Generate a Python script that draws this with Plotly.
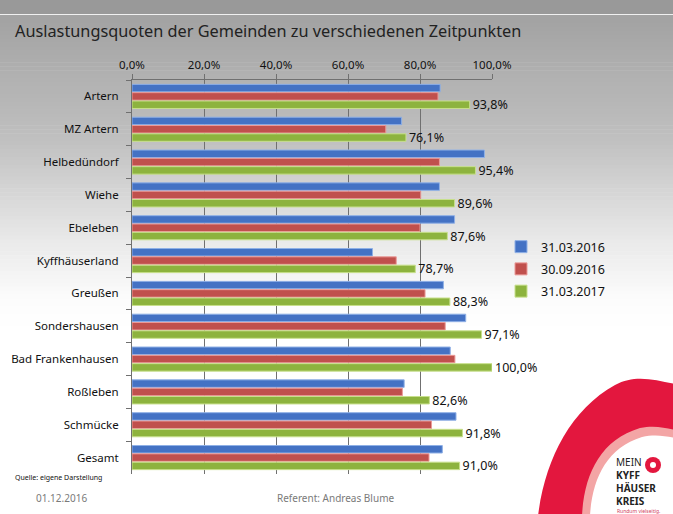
import plotly.graph_objects as go

categories = ["Artern", "MZ Artern", "Helbedündorf", "Wiehe", "Ebeleben", "Kyffhäuserland",
              "Greußen", "Sondershausen", "Bad Frankenhausen", "Roßleben", "Schmücke", "Gesamt"]
series_names = ["31.03.2016", "30.09.2016", "31.03.2017"]
q_2016_03 = [85.6, 74.9, 97.9, 85.4, 89.6, 66.8, 86.5, 92.7, 88.4, 75.6, 90.0, 86.2]
q_2016_09 = [85.0, 70.5, 85.4, 80.2, 80.0, 73.4, 81.4, 87.0, 89.7, 75.1, 83.2, 82.5]
q_2017_03 = [93.8, 76.1, 95.4, 89.6, 87.6, 78.7, 88.3, 97.1, 100.0, 82.6, 91.8, 91.0]
x_tick_vals = [0, 20, 40, 60, 80, 100]
x_tick_labels = ["0,0%", "20,0%", "40,0%", "60,0%", "80,0%", "100,0%"]

W, H = 673, 514
L, R, T, B = 132, 492, 80, 474
PW, PH = R - L, B - T


def px(x):
    return (x - L) / PW


def py(y):
    return (B - y) / PH


def cpath(segs):
    out = []
    for cmd, pts in segs:
        out.append(cmd + " " + " ".join(f"{px(a):.4f},{py(b):.4f}" for a, b in pts))
    return " ".join(out) + " Z"


fills = ["#4472c4", "#c0504d", "#8db33e"]
edges = ["#8fb0e6", "#eb9a98", "#c8e08c"]
series = [q_2016_03, q_2016_09, q_2017_03]

fig = go.Figure()
for i, (name, vals) in enumerate(zip(series_names, series)):
    fig.add_trace(go.Bar(
        y=categories, x=vals, name=name, orientation="h",
        marker=dict(color=fills[i], line=dict(color=edges[i], width=1)),
        legendgroup=name,
        texttemplate="%{x:.1f}%" if i == 2 else None,
        textposition="outside" if i == 2 else "none",
        constraintext="none",
        textfont=dict(size=12.5, color="#111", family="Noto Sans"),
        cliponaxis=False,
        hoverinfo="skip",
    ))

shapes = []
shapes.append(dict(type="rect", xref="paper", yref="paper", layer="below",
                   x0=px(-2), x1=px(W + 2), y0=py(-2), y1=py(14), line=dict(width=0), fillcolor="#999999"))
stops = [(15, 162), (140, 192), (240, 233), (300, 252), (330, 255)]
n = 80
y_start, y_end = 15, 330
for k in range(n):
    ya = y_start + (y_end - y_start) * k / n
    yb = y_start + (y_end - y_start) * (k + 1) / n + 0.6
    ym = (ya + yb) / 2
    c = 255
    for (y0, c0), (y1, c1) in zip(stops[:-1], stops[1:]):
        if y0 <= ym <= y1:
            c = c0 + (c1 - c0) * (ym - y0) / (y1 - y0)
    c = int(round(c))
    shapes.append(dict(type="rect", xref="paper", yref="paper", layer="below",
                       x0=px(-2), x1=px(W + 2), y0=py(ya), y1=py(yb),
                       line=dict(width=0), fillcolor=f"rgb({c},{c},{c})"))
shapes.append(dict(type="line", xref="paper", yref="paper", layer="below",
                   x0=px(-2), x1=px(W + 2), y0=py(14.5), y1=py(14.5), line=dict(width=1.2, color="#f0f0f0")))

# logo blobs
shapes.append(dict(type="path", xref="paper", yref="paper", layer="below",
                   path=cpath([("M", [(538, 516)]),
                               ("C", [(545, 460), (570, 410), (615, 385)]),
                               ("C", [(635, 374), (655, 380), (675, 384)]),
                               ("L", [(675, 516)])]),
                   fillcolor="#e3173e", line=dict(width=0)))
shapes.append(dict(type="path", xref="paper", yref="paper", layer="below",
                   path=cpath([("M", [(582, 516)]),
                               ("C", [(584, 475), (600, 440), (640, 428)]),
                               ("C", [(655, 425), (665, 428), (675, 430)]),
                               ("L", [(675, 516)])]),
                   fillcolor="#f3a5a5", line=dict(width=0)))
shapes.append(dict(type="path", xref="paper", yref="paper", layer="below",
                   path=cpath([("M", [(590, 516)]),
                               ("C", [(592, 480), (606, 448), (642, 437)]),
                               ("C", [(655, 434), (665, 436), (675, 438)]),
                               ("L", [(675, 516)])]),
                   fillcolor="#ffffff", line=dict(width=0)))
shapes.append(dict(type="circle", xref="paper", yref="paper",
                   x0=px(645), x1=px(661), y0=py(457), y1=py(473),
                   fillcolor="#e3173e", line=dict(width=0)))
shapes.append(dict(type="circle", xref="paper", yref="paper",
                   x0=px(650), x1=px(656), y0=py(462), y1=py(468),
                   fillcolor="#ffffff", line=dict(width=0)))

annotations = [
    dict(text="Auslastungsquoten der Gemeinden zu verschiedenen Zeitpunkten", x=px(13), y=py(31),
         xref="paper", yref="paper", xanchor="left", yanchor="middle", showarrow=False,
         font=dict(size=16.3, color="#222", family="Noto Sans")),
    dict(text="Quelle: eigene Darstellung", x=px(13), y=py(477), xref="paper", yref="paper",
         xanchor="left", yanchor="middle", showarrow=False,
         font=dict(size=7, color="#111", family="Noto Sans")),
    dict(text="01.12.2016", x=px(61), y=py(498), xref="paper", yref="paper",
         xanchor="center", yanchor="middle", showarrow=False,
         font=dict(size=10, color="#7a7a7a", family="Noto Sans")),
    dict(text="Referent: Andreas Blume", x=px(335), y=py(498), xref="paper", yref="paper",
         xanchor="center", yanchor="middle", showarrow=False,
         font=dict(size=10, color="#7a7a7a", family="Noto Sans")),
    dict(text="MEIN<br><b>KYFF</b><br><b>HÄUSER</b><br><b>KREIS</b>", x=px(614), y=py(453),
         xref="paper", yref="paper", xanchor="left", yanchor="top", align="left", showarrow=False,
         font=dict(size=10, color="#222", family="Noto Sans")),
    dict(text="Rundum vielseitig.", x=px(615), y=py(511.2), xref="paper", yref="paper",
         xanchor="left", yanchor="middle", showarrow=False,
         font=dict(size=5, color="#d04060", family="Noto Sans")),
]

fig.update_layout(
    width=W, height=H,
    margin=dict(l=L, r=W - R, t=T, b=H - B, pad=0, autoexpand=False),
    paper_bgcolor="#ffffff", plot_bgcolor="rgba(0,0,0,0)",
    separators=",.",
    barmode="group", bargap=0.24, bargroupgap=0.1,
    font=dict(family="Noto Sans", color="#111"),
    shapes=shapes, annotations=annotations,
    legend=dict(x=px(501), y=py(232), xanchor="left", yanchor="top",
                traceorder="grouped", tracegroupgap=3, bgcolor="rgba(0,0,0,0)",
                font=dict(size=12.5, color="#111"), itemwidth=30),
    xaxis=dict(side="top", range=[0, 100], tickvals=x_tick_vals, ticktext=x_tick_labels,
               showgrid=True, gridcolor="#707070", gridwidth=1, zeroline=False,
               showline=True, linecolor="#707070", linewidth=1,
               ticks="outside", ticklen=5, tickcolor="#707070", automargin=False,
               tickfont=dict(size=11.5, color="#111")),
    yaxis=dict(autorange="reversed", showline=True, linecolor="#707070", linewidth=1,
               ticks="outside", tickson="boundaries", ticklen=5, tickcolor="#707070",
               showgrid=False, automargin=False, tickfont=dict(size=11.5, color="#111"),
               ticklabelstandoff=10),
)

fig.write_html("out.html", config={"displayModeBar": False},
               post_script="document.body.style.margin='0px';document.body.style.overflow='hidden';")
